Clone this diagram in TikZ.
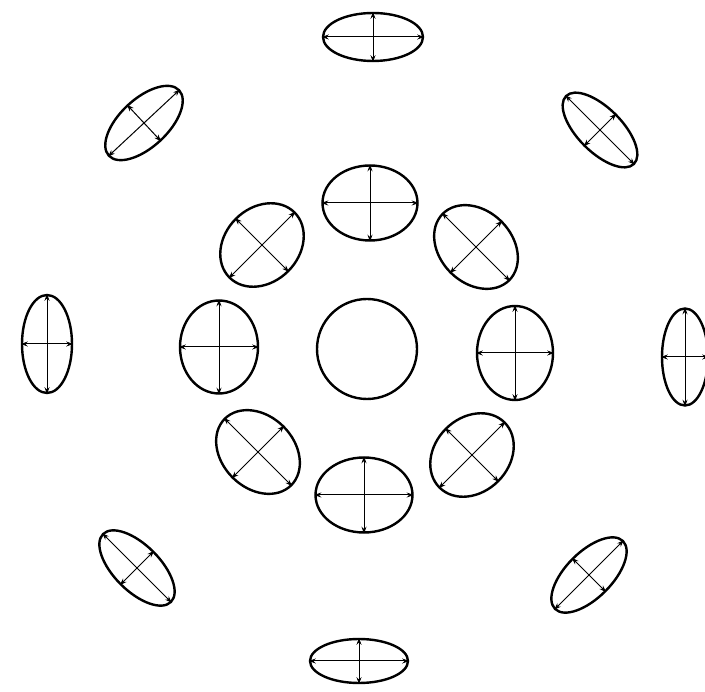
\documentclass[tikz,border=0pt]{standalone}
\usetikzlibrary{shapes.geometric,arrows.meta}
\tikzset{
  indic/.style = {ellipse, draw, line width=2.4pt, inner sep=0pt},
  disk/.style  = {circle, draw, line width=2.4pt, inner sep=0pt, minimum size=100pt},
  axis/.style  = {{Stealth[length=7pt,width=5pt]}-{Stealth[length=7pt,width=5pt]}, line width=1pt},
}
\begin{document}
\begin{tikzpicture}[x=1pt, y=-1pt]

  \useasboundingbox (0,0) rectangle (705,692);

  % centre
  \node[disk] (c) at (367,349) {};

  % inner ring
  \node[indic, minimum width=95pt, minimum height=75pt]             (it)  at (370,203) {};
  \node[indic, minimum width=97pt, minimum height=75pt]             (ib)  at (364,495) {};
  \node[indic, minimum width=78pt, minimum height=93pt]             (il)  at (219,347) {};
  \node[indic, minimum width=76pt, minimum height=94pt]             (ir)  at (515,353) {};
  \node[indic, minimum width=92pt, minimum height=74pt, rotate=45]  (iul) at (262,245) {};
  \node[indic, minimum width=94pt, minimum height=72pt, rotate=-45] (iur) at (476,247) {};
  \node[indic, minimum width=94pt, minimum height=72pt, rotate=-45] (ill) at (258,452) {};
  \node[indic, minimum width=92pt, minimum height=74pt, rotate=45]  (ilr) at (472,455) {};

  % outer ring
  \node[indic, minimum width=100pt, minimum height=48pt]            (ot)  at (373,37)  {};
  \node[indic, minimum width=98pt, minimum height=44pt]             (ob)  at (359,661) {};
  \node[indic, minimum width=50pt, minimum height=98pt]             (ol)  at (47,344)  {};
  \node[indic, minimum width=46pt, minimum height=97pt]             (or)  at (685,357) {};
  \node[indic, minimum width=96pt, minimum height=48pt, rotate=43]  (oul) at (144,123) {};
  \node[indic, minimum width=96pt, minimum height=44pt, rotate=-45] (our) at (600,130) {};
  \node[indic, minimum width=96pt, minimum height=46pt, rotate=-45] (oll) at (137,568) {};
  \node[indic, minimum width=96pt, minimum height=46pt, rotate=45]  (olr) at (589,575) {};

  % axes, inner ring
  \draw[axis] (it.west) -- (it.east);   \draw[axis] (it.north) -- (it.south);
  \draw[axis] (ib.west) -- (ib.east);   \draw[axis] (ib.north) -- (ib.south);
  \draw[axis] (il.west) -- (il.east);   \draw[axis] (il.north) -- (il.south);
  \draw[axis] (ir.west) -- (ir.east);   \draw[axis] (ir.north) -- (ir.south);
  \draw[axis] (iul.west) -- (iul.east); \draw[axis] (iul.north) -- (iul.south);
  \draw[axis] (iur.west) -- (iur.east); \draw[axis] (iur.north) -- (iur.south);
  \draw[axis] (ill.west) -- (ill.east); \draw[axis] (ill.north) -- (ill.south);
  \draw[axis] (ilr.west) -- (ilr.east); \draw[axis] (ilr.north) -- (ilr.south);

  % axes, outer ring
  \draw[axis] (ot.west) -- (ot.east);   \draw[axis] (ot.north) -- (ot.south);
  \draw[axis] (ob.west) -- (ob.east);   \draw[axis] (ob.north) -- (ob.south);
  \draw[axis] (ol.west) -- (ol.east);   \draw[axis] (ol.north) -- (ol.south);
  \draw[axis] (or.west) -- (or.east);   \draw[axis] (or.north) -- (or.south);
  \draw[axis] (oul.west) -- (oul.east); \draw[axis] (oul.north) -- (oul.south);
  \draw[axis] (our.west) -- (our.east); \draw[axis] (our.north) -- (our.south);
  \draw[axis] (oll.west) -- (oll.east); \draw[axis] (oll.north) -- (oll.south);
  \draw[axis] (olr.west) -- (olr.east); \draw[axis] (olr.north) -- (olr.south);

\end{tikzpicture}
\end{document}
